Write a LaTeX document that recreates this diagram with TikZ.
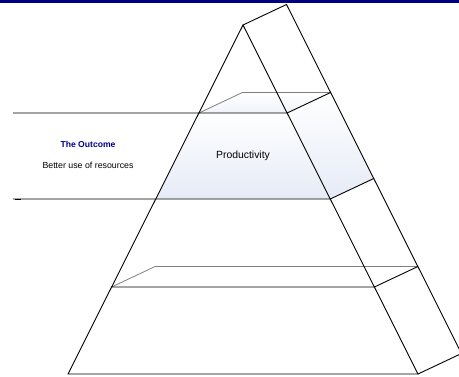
\documentclass[tikz,border=0pt]{standalone}
\usepackage{fontspec}
\setmainfont{Liberation Sans}
\definecolor{navybar}{RGB}{0,0,128}
\definecolor{outcome}{RGB}{0,0,140}
\definecolor{bandblue}{RGB}{229,235,246}
\begin{document}
\begin{tikzpicture}[x=1pt,y=-1pt,
  edge/.style={draw=black,line width=0.9pt},
  hidden/.style={draw=gray,line width=0.8pt},
  label/.style={inner sep=0pt,font=\fontsize{8.8}{10}\selectfont}]
\useasboundingbox (0,0) rectangle (459,376);
\fill[navybar] (0,0) rectangle (459,2.6);
% key points
\coordinate (A) at (243,25);
\coordinate (L) at (68,374);
\coordinate (R) at (418,374);
\coordinate (Ab) at (286.5,4.5);
\coordinate (Rb) at (461.5,353.5);
% productivity band
\coordinate (p1) at (198.9,113);
\coordinate (p2) at (287.1,113);
\coordinate (p3) at (330.25,199);
\coordinate (p4) at (155.75,199);
\coordinate (p1b) at (242.4,92.5);
\coordinate (p2b) at (330.6,92.5);
\coordinate (p3b) at (373.75,178.5);
% lower band
\coordinate (q1) at (111.6,287);
\coordinate (q2) at (374.4,287);
\coordinate (q1b) at (155.1,266.5);
\coordinate (q2b) at (417.9,266.5);
% fills
\shade[top color=white,bottom color=bandblue] (p1) -- (p2) -- (p3) -- (p4) -- cycle;
\shade[top color=white,bottom color=bandblue!60] (p1) -- (p1b) -- (p2b) -- (p2) -- cycle;
\shade[top color=white,bottom color=bandblue] (p2) -- (p2b) -- (p3b) -- (p3) -- cycle;
% hidden back lines
\draw[hidden] (p1) -- (p1b) -- (p2b);
\draw[hidden] (q1) -- (q1b) -- (q2b);
% prism edges
\draw[edge] (L) -- (A) -- (R) -- cycle;
\draw[edge] (A) -- (Ab) -- (Rb) -- (R);
% band lines
\coordinate (t1) at (13,113);
\coordinate (t2) at (13,199);
\draw[edge] (t1) -- (p2) -- (p2b);
\draw[edge] (t2) -- (p3) -- (p3b);
\draw[edge] (q1) -- (q2) -- (q2b);
\coordinate (k1) at (15,199.3);
\coordinate (k2) at (21,199.3);
\draw[line width=1.4pt] (k1) -- (k2);
% texts
\node[label,text=outcome,font=\bfseries\fontsize{8.6}{10}\selectfont] (outc) at (88,144) {The Outcome};
\node[label] (better) at (88,165) {Better use of resources};
\node[label,font=\fontsize{10.4}{12}\selectfont] (prod) at (243,156) {Productivity};
\end{tikzpicture}
\end{document}
